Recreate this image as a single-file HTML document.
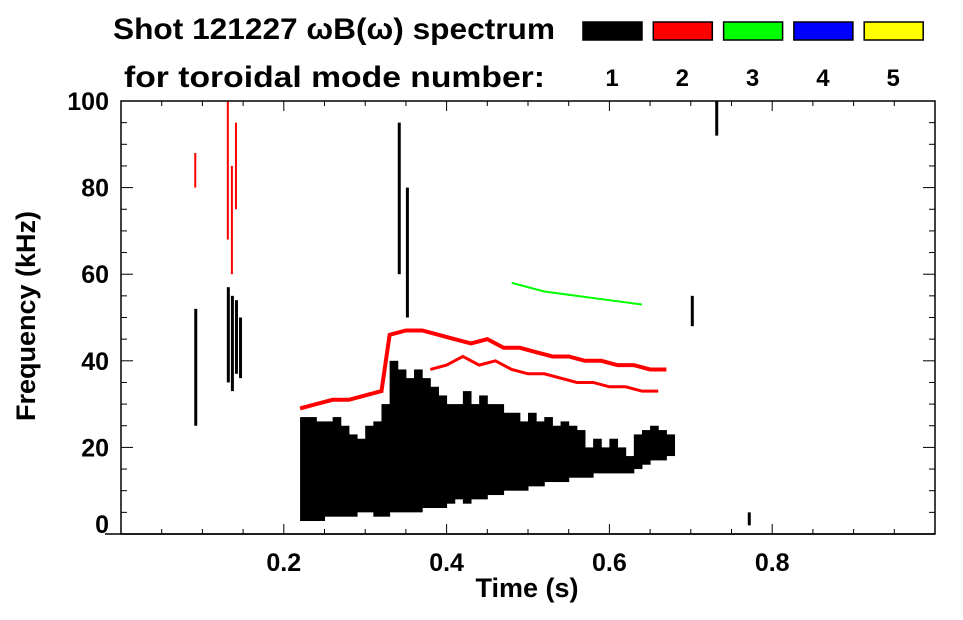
<!DOCTYPE html>
<html><head><meta charset="utf-8"><style>
body{margin:0;background:#fff;}
svg text{font-family:"Liberation Sans",sans-serif;font-weight:bold;}
</style></head><body>
<svg id="chart" width="963" height="615" xmlns="http://www.w3.org/2000/svg">
<g id="marks"></g>
<g id="axes"></g>
<text x="113" y="39" font-size="30" textLength="442" lengthAdjust="spacingAndGlyphs">Shot 121227 ωB(ω) spectrum</text>
<text x="124" y="87" font-size="30" textLength="421" lengthAdjust="spacingAndGlyphs">for toroidal mode number:</text>
<g id="legend"></g>
</svg>
<script>
const xTicks=[0.2,0.4,0.6,0.8];
const yTicks=[0,20,40,60,80,100];
const modes=["1","2","3","4","5"];
const modeColors=["#000","#f00","#0f0","#00f","#ff0"];
const blackTimes=[0.22,0.23,0.24,0.25,0.26,0.27,0.28,0.29,0.30,0.31,0.32,0.33,0.34,0.35,0.36,0.37,0.38,0.39,0.40,0.41,0.42,0.43,0.44,0.45,0.46,0.47,0.48,0.49,0.50,0.51,0.52,0.53,0.54,0.55,0.56,0.57,0.58,0.59,0.60,0.61,0.62,0.63,0.64,0.65,0.66,0.67];
const blackLow=[3,3,3,4,4,4,4,5,5,4,4,5,5,5,5,6,6,6,7,8,7,8,8,9,9,10,10,10,11,11,12,12,12,13,13,13,14,14,14,14,14,15,16,17,17,18];
const blackHigh=[27,27,26,26,27,25,23,22,25,26,30,40,38,36,38,36,34,32,30,30,33,30,32,30,30,28,28,26,28,26,27,25,26,25,24,20,22,20,22,20,18,23,24,25,24,23];
const spikeTimes=[0.09,0.13,0.135,0.14,0.145,0.34,0.35,0.70,0.73,0.77];
const spikeLow=[25,35,33,37,36,60,50,48,92,2];
const spikeHigh=[52,57,55,54,50,95,80,55,100,5];
const red1Times=[0.22,0.24,0.26,0.28,0.30,0.32,0.33,0.35,0.37,0.39,0.41,0.43,0.45,0.47,0.49,0.51,0.53,0.55,0.57,0.59,0.61,0.63,0.65,0.67];
const red1Freq=[29,30,31,31,32,33,46,47,47,46,45,44,45,43,43,42,41,41,40,40,39,39,38,38];
const red2Times=[0.38,0.40,0.42,0.44,0.46,0.48,0.50,0.52,0.54,0.56,0.58,0.60,0.62,0.64,0.66];
const red2Freq=[38,39,41,39,40,38,37,37,36,35,35,34,34,33,33];
const redSpikeTimes=[0.09,0.13,0.135,0.14];
const redSpikeLow=[80,68,60,75];
const redSpikeHigh=[88,100,85,95];
const greenTimes=[0.48,0.52,0.56,0.60,0.64];
const greenFreq=[58,56,55,54,53];

const L=121,R=935,T=101,B=534;
const X=t=>L+t*(R-L);
const Y=f=>B-f/100*(B-T);
const NS="http://www.w3.org/2000/svg";
function mk(tag,attrs,parent){const e=document.createElementNS(NS,tag);for(const k in attrs)e.setAttribute(k,attrs[k]);parent.appendChild(e);return e;}
const marks=document.getElementById('marks'),axes=document.getElementById('axes'),legend=document.getElementById('legend');
const dt=(X(0.01)-X(0));
blackTimes.forEach((t,i)=>{
  const r=mk('rect',{x:X(t),y:Y(blackHigh[i]),width:dt+0.5,height:Y(blackLow[i])-Y(blackHigh[i]),fill:'#000'},marks);
  
  
});
spikeTimes.forEach((t,i)=>{
  const r=mk('rect',{x:X(t),y:Y(spikeHigh[i]),width:3,height:Y(spikeLow[i])-Y(spikeHigh[i]),fill:'#000'},marks);
  
  
});
redSpikeTimes.forEach((t,i)=>{
  const r=mk('rect',{x:X(t),y:Y(redSpikeHigh[i]),width:2,height:Y(redSpikeLow[i])-Y(redSpikeHigh[i]),fill:'#f00'},marks);
  
  
});
function line(ts,fs,col,w,name){
  const p=mk('polyline',{points:ts.map((t,i)=>X(t)+','+Y(fs[i])).join(' '),fill:'none',stroke:col,'stroke-width':w},marks);
  
  
}
line(red1Times,red1Freq,'#f00',4,'mode2-line-upper');
line(red2Times,red2Freq,'#f00',3,'mode2-line-lower');
line(greenTimes,greenFreq,'#0f0',2,'mode3-line');

mk('rect',{x:L,y:T,width:R-L,height:B-T,fill:'none',stroke:'#000','stroke-width':1.5},axes);
mk('line',{x1:105,y1:B,x2:R,y2:B,stroke:'#000','stroke-width':1.5},axes);
for(let t=0;t<=1.0001;t+=0.05){
  const big=Math.abs(t*5-Math.round(t*5))<1e-6, len=big?10:5;
  mk('line',{x1:X(t),y1:B,x2:X(t),y2:B-len,stroke:'#000'},axes);
  mk('line',{x1:X(t),y1:T,x2:X(t),y2:T+len,stroke:'#000'},axes);
}
for(let f=0;f<=100;f+=5){
  const len=f%20===0?12:6;
  mk('line',{x1:L,y1:Y(f),x2:L+len,y2:Y(f),stroke:'#000'},axes);
  mk('line',{x1:R,y1:Y(f),x2:R-len,y2:Y(f),stroke:'#000'},axes);
}
xTicks.forEach(t=>{
  const e=mk('text',{x:X(t),y:B+37,'font-size':25,'text-anchor':'middle'},axes);e.textContent=t.toFixed(1);
  
  
});
yTicks.forEach(f=>{
  const yy=f===0?Y(f)-1:Y(f)+9;
  const e=mk('text',{x:L-12,y:yy,'font-size':25,'text-anchor':'end'},axes);e.textContent=f;
  
  
});
const xt=mk('text',{x:527,y:597,'font-size':27,'text-anchor':'middle'},axes);xt.textContent='Time (s)';


const yt=mk('text',{x:0,y:0,'font-size':27,'text-anchor':'middle',transform:'translate(35,316) rotate(-90)'},axes);yt.textContent='Frequency (kHz)';


modes.forEach((m,i)=>{
  const x=583+i*70.3;
  const r=mk('rect',{x:x,y:22,width:59,height:18,fill:modeColors[i],stroke:'#000','stroke-width':1.5},legend);
  
  
  const t=mk('text',{x:x+29,y:86,'font-size':24,'text-anchor':'middle'},legend);t.textContent=m;
  
  
});
</script>
</body></html>
